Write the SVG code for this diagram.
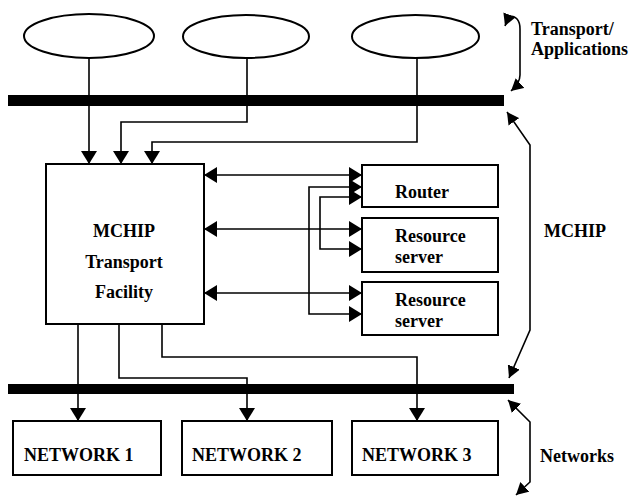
<svg xmlns="http://www.w3.org/2000/svg" width="632" height="496" viewBox="0 0 632 496">
<style>
  .ln { fill: none; stroke: #000; stroke-width: 1.6; }
  .box { fill: #fff; stroke: #000; stroke-width: 2; }
  .ell { fill: #fff; stroke: #000; stroke-width: 2; }
  .bar { fill: #000; }
  .t { font-family: "Liberation Serif", "Times New Roman", serif; font-weight: bold; font-size: 18px; fill: #000; }
</style>
<defs>
  <marker id="ah" markerUnits="userSpaceOnUse" markerWidth="14" markerHeight="16" refX="13" refY="8" orient="auto-start-reverse">
    <path d="M0,0 L13,8 L0,16 z" fill="#000"/>
  </marker>
  <marker id="ahs" markerUnits="userSpaceOnUse" markerWidth="13" markerHeight="13" refX="12" refY="6.5" orient="auto-start-reverse">
    <path d="M0,0 L12,6.5 L0,13 z" fill="#000"/>
  </marker>
</defs>

<rect class="bar" x="8" y="95" width="496" height="11"/>
<rect class="bar" x="8" y="384" width="506" height="10"/>

<g id="app1"><ellipse class="ell" cx="89" cy="36" rx="65" ry="22"/></g>
<g id="app2"><ellipse class="ell" cx="246" cy="36.5" rx="63" ry="21.5"/></g>
<g id="app3"><ellipse class="ell" cx="415.5" cy="36.5" rx="63.5" ry="21.5"/></g>

<g id="mchip">
  <rect class="box" x="46" y="164" width="158" height="160"/>
  <text class="t" x="124" y="237" text-anchor="middle">MCHIP</text>
  <text class="t" x="124" y="268" text-anchor="middle">Transport</text>
  <text class="t" x="124" y="298" text-anchor="middle">Facility</text>
</g>
<g id="router">
  <rect class="box" x="362" y="165" width="136" height="42"/>
  <text class="t" x="395" y="198">Router</text>
</g>
<g id="rs1">
  <rect class="box" x="362" y="218" width="136" height="54"/>
  <text class="t" x="395" y="242">Resource</text>
  <text class="t" x="395" y="263">server</text>
</g>
<g id="rs2">
  <rect class="box" x="362" y="282" width="136" height="53"/>
  <text class="t" x="395" y="306">Resource</text>
  <text class="t" x="395" y="327">server</text>
</g>
<g id="net1">
  <rect class="box" x="13" y="421" width="148" height="54"/>
  <text class="t" x="24" y="461">NETWORK 1</text>
</g>
<g id="net2">
  <rect class="box" x="182" y="421" width="150" height="54"/>
  <text class="t" x="192" y="461">NETWORK 2</text>
</g>
<g id="net3">
  <rect class="box" x="352" y="421" width="146" height="54"/>
  <text class="t" x="362" y="461">NETWORK 3</text>
</g>

<g id="labels">
  <text class="t" x="531" y="35">Transport/</text>
  <text class="t" x="531" y="55">Applications</text>
  <text class="t" x="544" y="237">MCHIP</text>
  <text class="t" x="540" y="462">Networks</text>
</g>

<g id="connectors">
  <path class="ln" d="M89,58 L89,164" marker-end="url(#ah)"/>
  <path class="ln" d="M247,58 L247,122 L121,122 L121,164" marker-end="url(#ah)"/>
  <path class="ln" d="M417,58 L417,142 L152,142 L152,164" marker-end="url(#ah)"/>

  <path class="ln" d="M204,175 L362,175" marker-start="url(#ah)" marker-end="url(#ah)"/>
  <path class="ln" d="M204,229 L362,229" marker-start="url(#ah)" marker-end="url(#ah)"/>
  <path class="ln" d="M204,293 L362,293" marker-start="url(#ah)" marker-end="url(#ah)"/>

  <path class="ln" d="M362,187 L309,187 L309,314 L362,314" marker-start="url(#ah)" marker-end="url(#ah)"/>
  <path class="ln" d="M362,197 L320,197 L320,249 L362,249" marker-start="url(#ah)" marker-end="url(#ah)"/>

  <path class="ln" d="M78,324 L78,421" marker-end="url(#ah)"/>
  <path class="ln" d="M119,324 L119,378 L247,378 L247,421" marker-end="url(#ah)"/>
  <path class="ln" d="M162,324 L162,357 L417,357 L417,421" marker-end="url(#ah)"/>

  <path class="ln" d="M505,26 L509,16 Q520,16 520,29 L520,75 Q520,83 511,91" marker-start="url(#ahs)" marker-end="url(#ahs)"/>
  <path class="ln" d="M507,112 L530,145 L530,330 L509,378" marker-start="url(#ahs)" marker-end="url(#ahs)"/>
  <path class="ln" d="M508,400 L530,422 L530,482 L516,495" marker-start="url(#ahs)" marker-end="url(#ahs)"/>
</g>
</svg>
